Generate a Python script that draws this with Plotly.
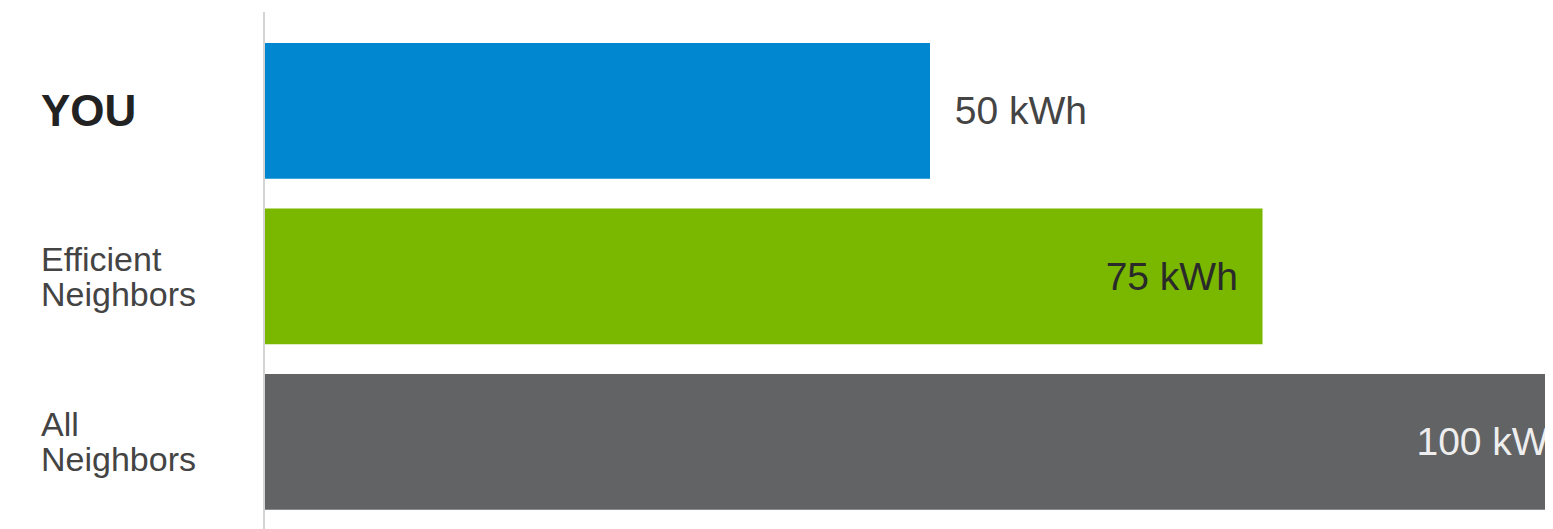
"""
Energy use comparison: you vs. neighbors
"""
import plotly.graph_objects as go

# Data
groups = ["YOU", "Efficient Neighbors", "All Neighbors"]
label_lines = [["YOU"], ["Efficient", "Neighbors"], ["All", "Neighbors"]]
kwh = [50, 75, 100]
unit = "kWh"

bar_colors = ["#0087cf", "#7ab800", "#626365"]
text_colors = ["#444444", "#2a2a2a", "#eeeeee"]
text_positions = ["outside", "inside", "inside"]

FONT = "Liberation Sans, Arial, Helvetica, sans-serif"
PAD = "\u00a0\u00a0"


def value_label(value, position):
    """Pad the value label so it sits away from the bar end"""
    label = f"{value} {unit}"
    return PAD + label if position == "outside" else label + PAD


fig = go.Figure(go.Bar(
    y=list(range(len(groups))),
    x=kwh,
    orientation="h",
    marker=dict(color=bar_colors, line=dict(width=0)),
    text=[value_label(v, p) for v, p in zip(kwh, text_positions)],
    textposition=text_positions,
    textangle=0,
    insidetextanchor="end",
    textfont=dict(family=FONT, size=39, color=text_colors),
    cliponaxis=True,
    hoverinfo="skip",
))

# Category labels on the left, one annotation per text line
for i, lines in enumerate(label_lines):
    bold = len(lines) == 1
    n = len(lines)
    for j, line in enumerate(lines):
        fig.add_annotation(
            xref="paper", yref="y",
            x=0, y=i,
            xshift=-226,
            yshift=(n - 1) / 2 * 35 - j * 35,
            xanchor="left", yanchor="middle",
            text=f"<b>{line}</b>" if bold else line,
            showarrow=False,
            font=dict(family=FONT, size=44 if bold else 34,
                      color="#222222" if bold else "#444444"),
        )

# page body adds an 8px margin, so the figure is 8px smaller than the window
fig.update_layout(
    width=1545,
    height=521,
    margin=dict(l=257, r=0, t=4, b=0),
    paper_bgcolor="white",
    plot_bgcolor="white",
    bargap=0.18,
    showlegend=False,
    xaxis=dict(range=[0, 96.84], visible=False, fixedrange=True),
    yaxis=dict(
        range=[2.526, -0.598],
        showticklabels=False,
        showgrid=False,
        zeroline=False,
        showline=True,
        linecolor="#d4d4d4",
        linewidth=2,
        ticks="",
        fixedrange=True,
    ),
)

fig.write_html("out.html", config={"displayModeBar": False})
